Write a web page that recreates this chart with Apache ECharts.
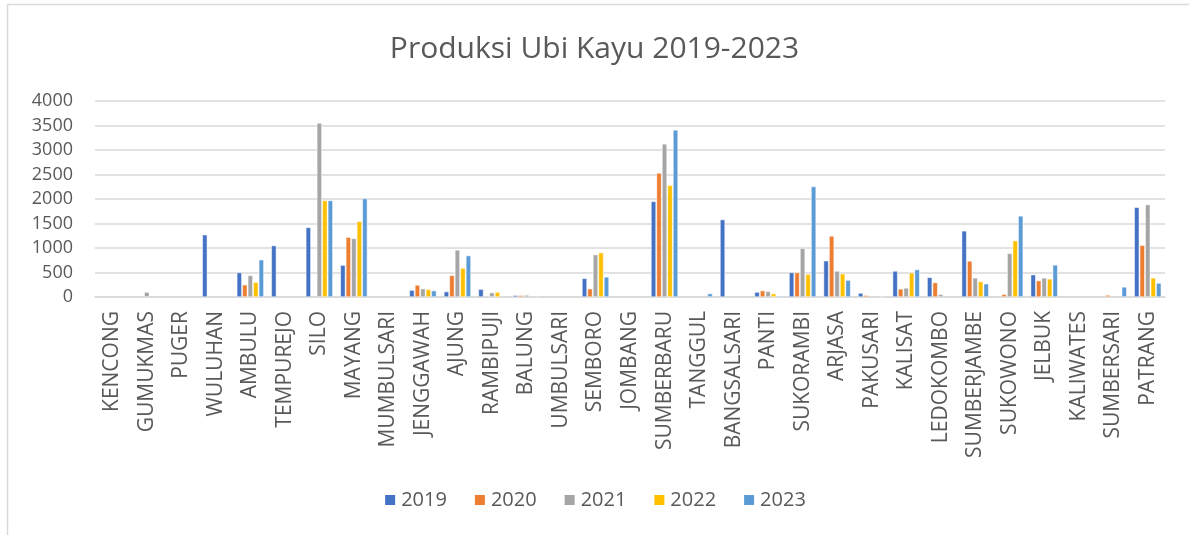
<!DOCTYPE html>
<html>
<head>
<meta charset="utf-8">
<script src="https://cdn.jsdelivr.net/npm/echarts@6/dist/echarts.min.js"></script>
<style>
html,body{margin:0;padding:0;background:#fff;}
#chart{width:1189px;height:535px;}
</style>
</head>
<body>
<div id="chart"></div>
<script>
const categories = ["KENCONG","GUMUKMAS","PUGER","WULUHAN","AMBULU","TEMPUREJO","SILO","MAYANG","MUMBULSARI","JENGGAWAH","AJUNG","RAMBIPUJI","BALUNG","UMBULSARI","SEMBORO","JOMBANG","SUMBERBARU","TANGGUL","BANGSALSARI","PANTI","SUKORAMBI","ARJASA","PAKUSARI","KALISAT","LEDOKOMBO","SUMBERJAMBE","SUKOWONO","JELBUK","KALIWATES","SUMBERSARI","PATRANG"];
const y2019 = [0,0,0,1270,500,1050,1420,650,0,140,110,160,35,0,380,0,1950,0,1580,100,500,740,80,530,400,1350,0,455,0,0,1830];
const y2020 = [0,0,0,0,250,0,0,1220,0,245,440,0,35,0,170,0,2530,0,0,130,500,1245,35,165,295,735,55,335,0,40,1055];
const y2021 = [0,100,0,0,440,0,3550,1195,0,170,960,90,40,0,865,0,3125,0,0,115,995,530,0,185,55,390,890,390,0,0,1885];
const y2022 = [0,0,0,0,300,0,1970,1545,0,155,590,100,0,0,905,0,2280,0,0,70,465,475,0,495,0,315,1150,370,0,0,390];
const y2023 = [0,0,0,0,760,0,1970,2010,0,130,845,0,20,0,410,0,3410,70,0,25,2255,345,20,560,0,270,1655,655,0,205,285];
const yTicks = [0,500,1000,1500,2000,2500,3000,3500,4000];
const years = ["2019","2020","2021","2022","2023"];
const colors = ["#4472C4","#ED7D31","#A5A5A5","#FFC000","#5B9BD5"];
const seriesData = [y2019,y2020,y2021,y2022,y2023];
const FONT = 'Open Sans, Noto Sans, sans-serif';

const chart = echarts.init(document.getElementById('chart'));
chart.setOption({
  animation:false,
  graphic:[
    {type:'line',shape:{x1:7.5,y1:4.5,x2:1189,y2:4.5},style:{stroke:'#d9d9d9',lineWidth:1.5},silent:true},
    {type:'line',shape:{x1:7.5,y1:4.5,x2:7.5,y2:535},style:{stroke:'#d9d9d9',lineWidth:1.5},silent:true}
  ],
  title:{text:'Produksi Ubi Kayu 2019-2023',left:'center',top:29,
    textStyle:{fontFamily:FONT,fontSize:30,fontWeight:'normal',color:'#595959'}},
  legend:{data:years,bottom:20,left:'center',itemWidth:12,itemHeight:12,itemGap:26,icon:'rect',
    textStyle:{fontFamily:FONT,fontSize:20,color:'#595959'}},
  grid:{left:95,right:24,top:101,bottom:238,containLabel:false},
  xAxis:{type:'category',data:categories,
    axisLine:{show:true,lineStyle:{color:'#d9d9d9',width:1.5}},
    axisTick:{show:false},
    axisLabel:{rotate:90,interval:0,margin:14,fontFamily:FONT,fontSize:21,color:'#595959'}},
  yAxis:{type:'value',min:0,max:4000,interval:500,
    axisLine:{show:false},axisTick:{show:false},
    splitLine:{lineStyle:{color:'#d9d9d9',width:1.5}},
    axisLabel:{margin:22,fontFamily:FONT,fontSize:18,color:'#595959',
      formatter:v=>yTicks.includes(v)?String(v):''}},
  series:years.map((y,i)=>({name:y,type:'bar',data:seriesData[i].map(v=>v===0?null:v),barWidth:5,barGap:'10%',
    itemStyle:{color:colors[i],borderColor:'#fff',borderWidth:0.5}}))
});
</script>
</body>
</html>
